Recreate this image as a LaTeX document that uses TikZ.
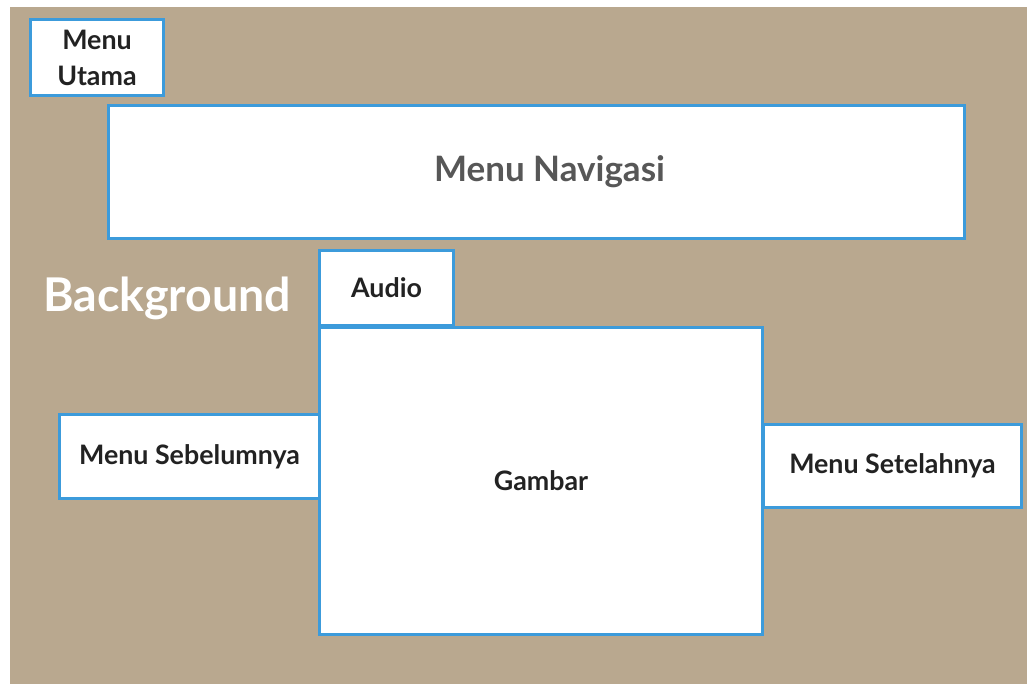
\documentclass[tikz,border=0pt]{standalone}
\usepackage{fontspec}
\setmainfont{Lato}
\definecolor{bgbrown}{HTML}{B9A88F}
\definecolor{boxblue}{HTML}{3C9BDB}
\definecolor{txtdark}{HTML}{222222}
\definecolor{txtgray}{HTML}{575757}
\tikzset{
  panel/.style={draw=boxblue, line width=3pt, fill=white, inner sep=0pt, align=center,
    text=txtdark, font=\fontsize{26.8}{36}\selectfont\bfseries},
}
\newcommand{\mybox}[6]{% name, x1, y1, x2, y2, text
  \node[panel, minimum width={#4-#2-3}, minimum height={#5-#3-3}] (#1) at ({(#2+#4)/2},{(#3+#5)/2}) {#6};}
\begin{document}
\begin{tikzpicture}[x=1pt,y=-1pt]
\useasboundingbox (0,0) rectangle (1027,684);
\fill[white] (0,0) rectangle (1027,684);
\fill[bgbrown] (10,7) rectangle (1027,684);
\mybox{utama}{29}{18}{165}{97}{Menu\\Utama}
\mybox{navigasi}{107}{104}{966}{240}{\hspace*{26pt}\raisebox{3pt}{\textcolor{txtgray}{\fontsize{35}{40}\selectfont Menu Navigasi}}}
\mybox{audio}{318}{249}{455}{327}{Audio}
\mybox{sebelum}{58}{413}{321}{500}{\raisebox{-2pt}{Menu Sebelumnya}}
\mybox{setelah}{762}{423}{1023}{509}{Menu Setelahnya}
\mybox{gambar}{318}{326}{764}{636}{Gambar}
\node[anchor=west, text=white, font=\fontsize{46.5}{50}\selectfont\bfseries, inner sep=0pt] (bgtext) at (43,298) {Background};
\end{tikzpicture}
\end{document}
